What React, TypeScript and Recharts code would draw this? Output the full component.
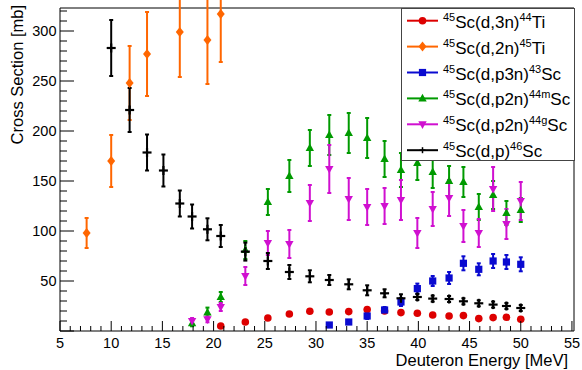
import React from 'react';
import { ScatterChart, Scatter, XAxis, YAxis, ErrorBar, ReferenceLine } from 'recharts';

// ---- Data ----
const ti44Energy = [20.7, 23.1, 25.3, 27.4, 29.4, 31.3, 33.2, 35.0, 36.7, 38.3, 39.9, 41.4, 43.0, 44.4, 45.9, 47.3, 48.6, 50.0];
const ti44Value = [5, 9, 13, 17, 19.7, 19, 19.4, 21.4, 20, 18.4, 17.7, 16, 15, 15.4, 12.4, 13.4, 13.7, 11.7];
const ti44Error = [1.5, 1.5, 1.5, 1.5, 1.5, 1.5, 1.5, 1.5, 1.5, 1.5, 1.5, 1.5, 1.5, 1.5, 1.5, 1.5, 1.5, 1.5];

const ti45Energy = [7.6, 10.0, 11.8, 13.5, 16.7, 19.4, 20.7];
const ti45Value = [98, 170, 248, 277, 299, 291, 317];
const ti45Error = [15, 26, 37, 42, 45, 44, 48];

const sc43Energy = [31.3, 33.2, 35.0, 36.7, 38.3, 39.9, 41.4, 43.0, 44.4, 45.9, 47.3, 48.6, 50.0];
const sc43Value = [6, 9, 15, 21, 29, 42.4, 50, 53, 67.7, 61.7, 70, 69, 66.7];
const sc43Error = [2, 2, 3, 3, 4, 5, 5, 6, 7, 6, 7, 7, 7];

const sc44mEnergy = [17.9, 19.4, 20.7, 23.1, 25.3, 27.4, 29.4, 31.3, 33.2, 35.0, 36.7, 38.3, 39.9, 41.4, 43.0, 44.4, 45.9, 47.3, 48.6, 50.0];
const sc44mValue = [7.7, 18.4, 34, 81, 129, 155, 183, 196, 198, 193, 172, 161, 168, 159, 150, 149, 124, 136, 118, 121];
const sc44mError = [3, 5, 5, 9, 13, 16, 18, 20, 20, 20, 18, 17, 17, 16, 15, 15, 13, 14, 12, 12];

const sc44gEnergy = [17.9, 19.4, 20.7, 23.1, 25.3, 27.4, 29.4, 31.3, 33.2, 35.0, 36.7, 38.3, 39.9, 41.4, 43.0, 44.4, 45.9, 47.3, 48.6, 50.0];
const sc44gValue = [10, 11.7, 24, 55, 88, 87, 128, 162, 132, 124, 125, 131, 98, 122, 133, 105, 98, 142, 107, 130];
const sc44gError = [3, 3, 4, 9, 12, 14, 18, 24, 21, 18, 18, 20, 15, 17, 18, 16, 14, 22, 15, 19];

const sc46Energy = [10.0, 11.8, 13.5, 15.1, 16.7, 17.9, 19.4, 20.7, 23.1, 25.3, 27.4, 29.4, 31.3, 33.2, 35.0, 36.7, 38.3, 39.9, 41.4, 43.0, 44.4, 45.9, 47.3, 48.6, 50.0];
const sc46Value = [283, 221, 178.5, 160.5, 127.5, 114.5, 101.7, 95, 79.4, 70, 59, 54.7, 51, 46.7, 40.7, 37.7, 32.7, 34, 32.4, 32, 29.7, 27.7, 26.4, 25, 23];
const sc46Error = [28, 22, 18, 16, 13, 12, 11, 11, 9, 8, 7, 6, 5, 5, 5, 4, 4, 3, 3, 3, 3, 3, 3, 3, 3];

const xMajorTicks = [5, 10, 15, 20, 25, 30, 35, 40, 45, 50, 55];
const yMajorTicks = [50, 100, 150, 200, 250, 300];

const X_MIN = 5;
const X_MAX = 55.2;
const Y_MIN = 0;
const Y_MAX = 323;

const xTicks = Array.from({ length: 51 }, (_, i) => 5 + i);
const yTicks = Array.from({ length: 33 }, (_, i) => i * 10);

const build = (e: number[], v: number[], er: number[]) =>
  e.map((x, i) => ({ x, y: v[i], err: er[i] }));

const FONT = '"Liberation Sans", Arial, Helvetica, sans-serif';

const COLORS = {
  ti44: '#dd0000',
  ti45: '#ff6600',
  sc43: '#0a0ad0',
  sc44m: '#009a00',
  sc44g: '#d010d0',
  sc46: '#000000',
};

// ---- Marker shapes ----
const Circle = (c: string) => (p: any) => <circle cx={p.cx} cy={p.cy} r={3.8} fill={c} />;
const Diamond = (c: string) => (p: any) => (
  <path d={`M${p.cx},${p.cy - 5}L${p.cx + 4},${p.cy}L${p.cx},${p.cy + 5}L${p.cx - 4},${p.cy}Z`} fill={c} />
);
const Square = (c: string) => (p: any) => <rect x={p.cx - 3.6} y={p.cy - 3.6} width={7.2} height={7.2} fill={c} />;
const TriUp = (c: string) => (p: any) => (
  <path d={`M${p.cx},${p.cy - 4.6}L${p.cx + 4.2},${p.cy + 3}L${p.cx - 4.2},${p.cy + 3}Z`} fill={c} />
);
const TriDown = (c: string) => (p: any) => (
  <path d={`M${p.cx},${p.cy + 4.6}L${p.cx + 4.2},${p.cy - 3}L${p.cx - 4.2},${p.cy - 3}Z`} fill={c} />
);
const Cross = (c: string) => (p: any) => (
  <g stroke={c} strokeWidth={2.2}>
    <line x1={p.cx - 4.5} x2={p.cx + 4.5} y1={p.cy} y2={p.cy} />
    <line x1={p.cx} x2={p.cx} y1={p.cy - 4.5} y2={p.cy + 4.5} />
  </g>
);

// ---- Ticks ----
const XTick = (props: any) => {
  const { x, y, payload } = props;
  const v = payload.value;
  const major = xMajorTicks.includes(v);
  return (
    <g>
      <line x1={x} x2={x} y1={y} y2={y - (major ? 10 : 5)} stroke="#000" strokeWidth={1} />
      {major && (
        <text x={x} y={y + 16.5} textAnchor="middle" fontSize={14.5} fontFamily={FONT} fill="#000">
          {v}
        </text>
      )}
    </g>
  );
};

const YTick = (props: any) => {
  const { x, y, payload } = props;
  const v = payload.value;
  const major = v % 50 === 0;
  return (
    <g>
      <line x1={x} x2={x + (major ? 14 : 7)} y1={y} y2={y} stroke="#000" strokeWidth={1} />
      {yMajorTicks.includes(v) && (
        <text x={x - 3.5} y={y + 5} textAnchor="end" fontSize={14.5} fontFamily={FONT} fill="#000">
          {v}
        </text>
      )}
    </g>
  );
};

// ---- Legend ----
const legendItems = [
  { key: 'ti44', pre: '45', mid: 'Sc(d,3n)', sup: '44', post: 'Ti' },
  { key: 'ti45', pre: '45', mid: 'Sc(d,2n)', sup: '45', post: 'Ti' },
  { key: 'sc43', pre: '45', mid: 'Sc(d,p3n)', sup: '43', post: 'Sc' },
  { key: 'sc44m', pre: '45', mid: 'Sc(d,p2n)', sup: '44m', post: 'Sc' },
  { key: 'sc44g', pre: '45', mid: 'Sc(d,p2n)', sup: '44g', post: 'Sc' },
  { key: 'sc46', pre: '45', mid: 'Sc(d,p)', sup: '46', post: 'Sc' },
];

const legendMarker = (key: string, cx: number, cy: number) => {
  const c = (COLORS as any)[key];
  const p = { cx, cy };
  switch (key) {
    case 'ti44':
      return Circle(c)(p);
    case 'ti45':
      return Diamond(c)(p);
    case 'sc43':
      return Square(c)(p);
    case 'sc44m':
      return TriUp(c)(p);
    case 'sc44g':
      return TriDown(c)(p);
    default:
      return (
        <g stroke={c} strokeWidth={1.5}>
          <line x1={cx - 3} x2={cx + 3} y1={cy} y2={cy} />
          <line x1={cx} x2={cx} y1={cy - 3} y2={cy + 3} />
        </g>
      );
  }
};

const LegendOverlay = () => (
  <svg width={582} height={370} style={{ position: 'absolute', left: 0, top: 0, pointerEvents: 'none' }}>
    <rect x={401.5} y={8.5} width={173} height={152} fill="#fff" stroke="#444" strokeWidth={1} />
    {legendItems.map((it, i) => {
      const cy = 20.7 + 25.9 * i;
      const c = (COLORS as any)[it.key];
      return (
        <g key={it.key}>
          <line x1={407} x2={438} y1={cy} y2={cy} stroke={c} strokeWidth={2} />
          {legendMarker(it.key, 422.5, cy)}
          <text x={443} y={cy + 7} fontFamily={FONT} fill="#000">
            <tspan fontSize={11} dy={-7}>{it.pre}</tspan>
            <tspan fontSize={17} dy={7}>{it.mid}</tspan>
            <tspan fontSize={11} dy={-7}>{it.sup}</tspan>
            <tspan fontSize={17} dy={7}>{it.post}</tspan>
          </text>
        </g>
      );
    })}
    <text
      x={22.5}
      y={5}
      transform="rotate(-90, 22.5, 5)"
      textAnchor="end"
      fontSize={16.5}
      fontFamily={FONT}
      fill="#000"
    >
      Cross Section [mb]
    </text>
    <text x={568} y={366} textAnchor="end" fontSize={16.5} fontFamily={FONT} fill="#000">
      Deuteron Energy [MeV]
    </text>
  </svg>
);

export default function App() {
  const series = [
    { key: 'ti44', data: build(ti44Energy, ti44Value, ti44Error), shape: Circle(COLORS.ti44) },
    { key: 'ti45', data: build(ti45Energy, ti45Value, ti45Error), shape: Diamond(COLORS.ti45) },
    { key: 'sc43', data: build(sc43Energy, sc43Value, sc43Error), shape: Square(COLORS.sc43) },
    { key: 'sc44m', data: build(sc44mEnergy, sc44mValue, sc44mError), shape: TriUp(COLORS.sc44m) },
    { key: 'sc44g', data: build(sc44gEnergy, sc44gValue, sc44gError), shape: TriDown(COLORS.sc44g) },
    { key: 'sc46', data: build(sc46Energy, sc46Value, sc46Error), shape: Cross(COLORS.sc46) },
  ];
  return (
    <div style={{ position: 'absolute', left: 0, top: 0, width: 582, height: 370, background: '#fff' }}>
      <ScatterChart width={582} height={370} margin={{ top: 8, right: 8, bottom: 0, left: 0 }}>
        <XAxis
          type="number"
          dataKey="x"
          domain={[X_MIN, X_MAX]}
          ticks={xTicks}
          interval={0}
          allowDataOverflow
          height={39}
          tickSize={0}
          tickMargin={0}
          tickLine={false}
          axisLine={{ stroke: '#000', strokeWidth: 1 }}
          tick={<XTick />}
        />
        <YAxis
          type="number"
          dataKey="y"
          domain={[Y_MIN, Y_MAX]}
          ticks={yTicks}
          interval={0}
          allowDataOverflow
          width={60}
          tickSize={0}
          tickMargin={0}
          tickLine={false}
          axisLine={{ stroke: '#000', strokeWidth: 1 }}
          tick={<YTick />}
        />
        <ReferenceLine y={Y_MAX} stroke="#000" strokeWidth={1} />
        <ReferenceLine x={X_MAX} stroke="#000" strokeWidth={1} />
        {series.map((s) => (
          <Scatter key={s.key} data={s.data} shape={s.shape} isAnimationActive={false}>
            <ErrorBar
              dataKey="err"
              direction="y"
              width={2}
              stroke={(COLORS as any)[s.key]}
              strokeWidth={2}
              isAnimationActive={false}
            />
          </Scatter>
        ))}
      </ScatterChart>
      <LegendOverlay />
    </div>
  );
}
